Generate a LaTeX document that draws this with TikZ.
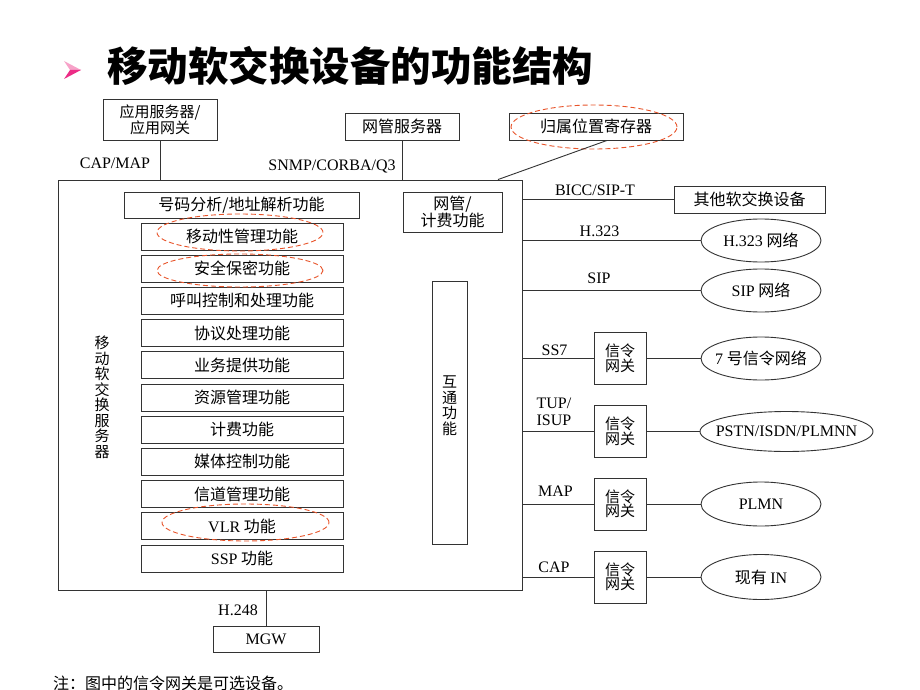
\documentclass[tikz,border=0pt]{standalone}
\usepackage{fontspec}
\setmainfont{Liberation Serif}
\newfontfamily\cjk{Noto Sans CJK SC}
\usetikzlibrary{shapes.geometric}
\definecolor{lncol}{HTML}{333333}
\definecolor{hlcol}{HTML}{E8542A}
\definecolor{pinkA}{HTML}{F7A3C9}
\definecolor{pinkB}{HTML}{EC2C86}
\begin{document}
\begin{tikzpicture}[x=1pt,y=-1pt,
  bx/.style={draw=lncol, line width=0.9pt, inner sep=0pt, fill=white},
  ell/.style={ellipse, draw=lncol, line width=0.9pt, inner sep=0pt, fill=white},
  ln/.style={draw=lncol, line width=0.9pt},
  hl/.style={draw=hlcol, line width=0.9pt, dash pattern=on 5pt off 3pt},
  zhtxt/.style={font=\cjk\fontsize{16}{14.5}\selectfont},
  zhsmall/.style={font=\cjk\fontsize{15}{14.5}\selectfont},
  zhvert/.style={font=\cjk\fontsize{15}{15.5}\selectfont, align=center},
  entxt/.style={font=\fontsize{16}{17}\selectfont, inner sep=0pt},
  funcbox/.style={bx, minimum width=202pt, minimum height=27pt, zhtxt},
  gwbox/.style={bx, minimum width=52pt, minimum height=52pt, zhsmall, align=center},
  netell/.style={ell, minimum width=120pt, minimum height=43pt}
]
\fill[white] (0,0) rectangle (920,690);
\useasboundingbox (0,0) rectangle (920,690);

% title
\fill[pinkA] (64,61) -- (81,70) -- (70,70) -- cycle;
\fill[pinkB] (70,70) -- (81,70) -- (64,79) -- cycle;
\node[font=\cjk\bfseries\fontsize{40.5}{42}\selectfont, anchor=west, inner sep=0pt] (title) at (107,66) {移动软交换设备的功能结构};

% top boxes
\node[bx, minimum width=114pt, minimum height=41pt, zhsmall, align=center] (app) at (160,119.5) {应用服务器/\\应用网关};
\node[bx, minimum width=114pt, minimum height=27pt, zhtxt] (nms) at (402,126.5) {网管服务器};
\node[bx, minimum width=174pt, minimum height=27pt, zhtxt] (hlr) at (596,126.5) {归属位置寄存器};
\draw[hl] (594,127) ellipse [x radius=83pt, y radius=22pt];

% main box
\node[bx, fill=none, minimum width=464pt, minimum height=410pt] (msc) at (290,385) {};

\draw[ln] (app.south) -- (app.south |- msc.north);
\draw[ln] (nms.south) -- (nms.south |- msc.north);
\draw[ln] ([xshift=11pt]hlr.south) -- ([xshift=208pt]msc.north);
\node[entxt] (lcapmap) at (115,163) {CAP/MAP};
\node[entxt] (lsnmp) at (332,166) {SNMP/CORBA/Q3};

% inside main box
\node[bx, minimum width=235pt, minimum height=26pt, zhtxt] (num) at (241.5,205) {号码分析/地址解析功能};
\node[bx, minimum width=99pt, minimum height=40pt, zhtxt, align=center] (nmsf) at (452.5,212) {网管/\\计费功能};
\node[funcbox] (f0) at (242,236.5) {移动性管理功能};
\node[funcbox] (f1) at (242,268.7) {安全保密功能};
\node[funcbox] (f2) at (242,300.9) {呼叫控制和处理功能};
\node[funcbox] (f3) at (242,333.1) {协议处理功能};
\node[funcbox] (f4) at (242,365.3) {业务提供功能};
\node[funcbox] (f5) at (242,397.5) {资源管理功能};
\node[funcbox] (f6) at (242,429.7) {计费功能};
\node[funcbox] (f7) at (242,461.9) {媒体控制功能};
\node[funcbox] (f8) at (242,494.1) {信道管理功能};
\node[funcbox] (f9) at (242,526.3) {{\rmfamily VLR}~功能};
\node[funcbox] (f10) at (242,558.5) {{\rmfamily SSP}~功能};
\draw[hl] (240,232.5) ellipse [x radius=83pt, y radius=18.5pt];
\draw[hl] (240,270.5) ellipse [x radius=83pt, y radius=16.5pt];
\draw[hl] (245.5,522.5) ellipse [x radius=83.5pt, y radius=18.5pt];

\node[bx, minimum width=35pt, minimum height=263pt] (iw) at (449.5,412.5) {};
\node[zhvert] (iwt) at (449.5,405.5) {互\\通\\功\\能};
\node[zhvert] (vt) at (102,397.5) {移\\动\\软\\交\\换\\服\\务\\器};

% right side
\node[bx, minimum width=151pt, minimum height=27pt, zhtxt] (other) at (749.5,199.5) {其他软交换设备};
\draw[ln] (msc.east |- other) -- (other.west);
\node[entxt] (lbicc) at (595,190) {BICC/SIP-T};

\node[netell, label={[zhtxt]center:{\rmfamily H.323}~网络}] (h323) at (761,240.5) {};
\draw[ln] (msc.east |- h323) -- (h323.west);
\node[entxt] (lh323) at (599.5,231) {H.323};

\node[netell, label={[zhtxt]center:{\rmfamily SIP}~网络}] (sipn) at (761,290.5) {};
\draw[ln] (msc.east |- sipn) -- (sipn.west);
\node[entxt] (lsip) at (599,278) {SIP};

\node[gwbox] (g1) at (620,358.5) {信令\\网关};
\node[netell, label={[zhtxt]center:{\rmfamily 7}~号信令网络}] (ss7n) at (761,358.5) {};
\draw[ln] (msc.east |- g1) -- (g1.west);
\draw[ln] (g1.east) -- (ss7n.west);
\node[entxt] (lss7) at (554.5,350) {SS7};

\node[gwbox] (g2) at (620,431.5) {信令\\网关};
\node[ell, minimum width=173pt, minimum height=40pt, label={[font=\fontsize{16}{17}\selectfont]center:PSTN/ISDN/PLMNN}] (pstn) at (786.5,431.5) {};
\draw[ln] (msc.east |- g2) -- (g2.west);
\draw[ln] (g2.east) -- (pstn.west);
\node[entxt, align=left] (ltup) at (554,411.5) {TUP/\\ISUP};

\node[gwbox] (g3) at (620,504) {信令\\网关};
\node[netell, minimum height=44pt, label={[font=\fontsize{16}{17}\selectfont]center:PLMN}] (plmn) at (761,504) {};
\draw[ln] (msc.east |- g3) -- (g3.west);
\draw[ln] (g3.east) -- (plmn.west);
\node[entxt] (lmap) at (555.5,491) {MAP};

\node[gwbox] (g4) at (620,577) {信令\\网关};
\node[netell, minimum height=45pt, label={[zhtxt]center:现有~{\rmfamily IN}}] (inn) at (761,577) {};
\draw[ln] (msc.east |- g4) -- (g4.west);
\draw[ln] (g4.east) -- (inn.west);
\node[entxt] (lcap) at (554,567) {CAP};

% bottom
\node[bx, minimum width=106pt, minimum height=26pt, font=\fontsize{16}{17}\selectfont] (mgw) at (266,639) {MGW};
\draw[ln] (mgw.north |- msc.south) -- (mgw.north);
\node[entxt] (lh248) at (238,610) {H.248};
\node[zhtxt, anchor=west, inner sep=0pt] (note) at (53,683) {注：图中的信令网关是可选设备。};
\end{tikzpicture}
\end{document}
